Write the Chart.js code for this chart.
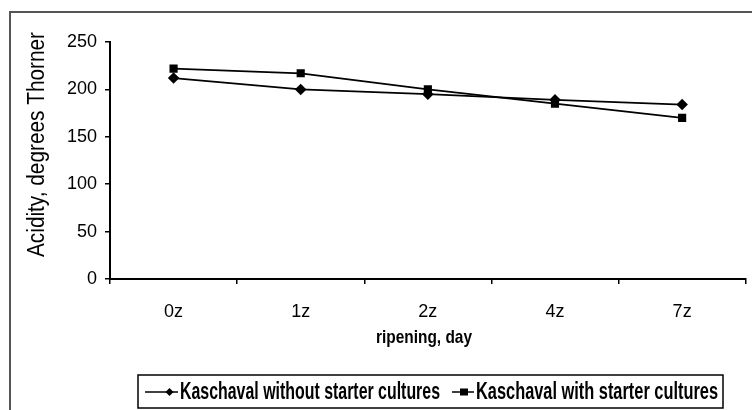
<!DOCTYPE html>
<html>
<head>
<meta charset="utf-8">
<script src="https://cdn.jsdelivr.net/npm/chart.js@4/dist/chart.umd.min.js"></script>
<style>
  html, body { margin: 0; padding: 0; background: #fff; }
  #wrap { width: 752px; height: 410px; position: relative; }
</style>
</head>
<body>
<div id="wrap"><canvas id="acidityChart" width="752" height="410"></canvas></div>
<script>
// Chart data
const days = ["0z", "1z", "2z", "4z", "7z"];
const withoutStarter = [212, 200, 195, 189, 184];
const withStarter = [222, 217, 200, 185, 170];
const yTicks = [0, 50, 100, 150, 200, 250];

const FONT = "'Liberation Sans', Arial, sans-serif";

// draw text squeezed horizontally to a given width (narrow look)
function fillNarrow(ctx, text, x, y, width) {
  const w = ctx.measureText(text).width;
  ctx.save();
  ctx.translate(x, y);
  ctx.scale(width / w, 1);
  ctx.textAlign = "left";
  ctx.fillText(text, 0, 0);
  ctx.restore();
}

// Frame, axis titles and boxed legend
const decorPlugin = {
  id: "decor",
  afterDraw(chart) {
    const ctx = chart.ctx;
    ctx.save();

    // outer frame (top and left visible)
    ctx.strokeStyle = "#555";
    ctx.lineWidth = 2;
    ctx.beginPath();
    ctx.moveTo(10, 410);
    ctx.lineTo(10, 12);
    ctx.lineTo(752, 12);
    ctx.stroke();

    // y title
    ctx.fillStyle = "#000";
    ctx.textBaseline = "middle";
    ctx.font = "23px " + FONT;
    ctx.save();
    ctx.translate(38, 257);
    ctx.rotate(-Math.PI / 2);
    fillNarrow(ctx, "Acidity, degrees Thorner", 0, 0, 225);
    ctx.restore();

    // x title
    ctx.font = "bold 19px " + FONT;
    fillNarrow(ctx, "ripening, day", 376, 338, 96);

    // legend
    const boxLeft = 138, boxTop = 375, boxRight = 723, boxBottom = 408;
    ctx.strokeStyle = "#000";
    ctx.lineWidth = 1.5;
    ctx.strokeRect(boxLeft, boxTop, boxRight - boxLeft, boxBottom - boxTop);

    ctx.font = "bold 23px " + FONT;
    const cy = 392;
    const items = [
      { x: 145, textX: 180, textW: 260 },
      { x: 452, textX: 476, textW: 242 },
    ];
    chart.data.datasets.forEach((ds, i) => {
      const it = items[i];
      const lineEnd = it.textX - 2;
      ctx.strokeStyle = "#000";
      ctx.lineWidth = 1.5;
      ctx.beginPath();
      ctx.moveTo(it.x, cy);
      ctx.lineTo(lineEnd, cy);
      ctx.stroke();
      ctx.fillStyle = "#000";
      ctx.beginPath();
      const mx = (it.x + lineEnd) / 2 + (ds.pointStyle === "rectRot" ? 8 : 1);
      if (ds.pointStyle === "rectRot") {
        ctx.moveTo(mx, cy - 4);
        ctx.lineTo(mx + 4, cy);
        ctx.lineTo(mx, cy + 4);
        ctx.lineTo(mx - 4, cy);
        ctx.closePath();
      } else {
        ctx.rect(mx - 4, cy - 3.5, 8, 7);
      }
      ctx.fill();
      fillNarrow(ctx, ds.label, it.textX, cy + 1, it.textW);
    });

    ctx.restore();
  },
};

const ctx = document.getElementById("acidityChart").getContext("2d");

new Chart(ctx, {
  type: "line",
  data: {
    labels: days,
    datasets: [
      {
        label: "Kaschaval without starter cultures",
        data: withoutStarter,
        borderColor: "#000",
        backgroundColor: "#000",
        borderWidth: 1.8,
        pointStyle: "rectRot",
        pointRadius: 4.5,
        tension: 0,
      },
      {
        label: "Kaschaval with starter cultures",
        data: withStarter,
        borderColor: "#000",
        backgroundColor: "#000",
        borderWidth: 1.8,
        pointStyle: "rect",
        pointRadius: 4.5,
        tension: 0,
      },
    ],
  },
  options: {
    responsive: false,
    animation: false,
    layout: {
      padding: { top: 42, left: 0, right: 1, bottom: 0 },
    },
    plugins: {
      legend: { display: false },
      tooltip: { enabled: false },
    },
    scales: {
      x: {
        offset: true,
        grid: {
          offset: true,
          drawOnChartArea: false,
          drawTicks: true,
          tickLength: 5,
          color: "#000",
          lineWidth: 1.5,
        },
        border: { color: "#000", width: 2 },
        ticks: {
          color: "#000",
          font: { family: FONT, size: 18 },
          padding: 17,
          maxRotation: 0,
        },
        afterFit(scale) {
          scale.height = 131;
        },
      },
      y: {
        min: 0,
        max: 250,
        afterBuildTicks(scale) {
          scale.ticks = yTicks.map((v) => ({ value: v }));
        },
        grid: {
          drawOnChartArea: false,
          drawTicks: true,
          tickLength: 5,
          color: "#000",
          lineWidth: 1.5,
        },
        border: { color: "#000", width: 2 },
        ticks: {
          color: "#000",
          font: { family: FONT, size: 18 },
          padding: 8,
        },
        afterFit(scale) {
          scale.width = 110;
        },
      },
    },
  },
  plugins: [decorPlugin],
});
</script>
</body>
</html>
